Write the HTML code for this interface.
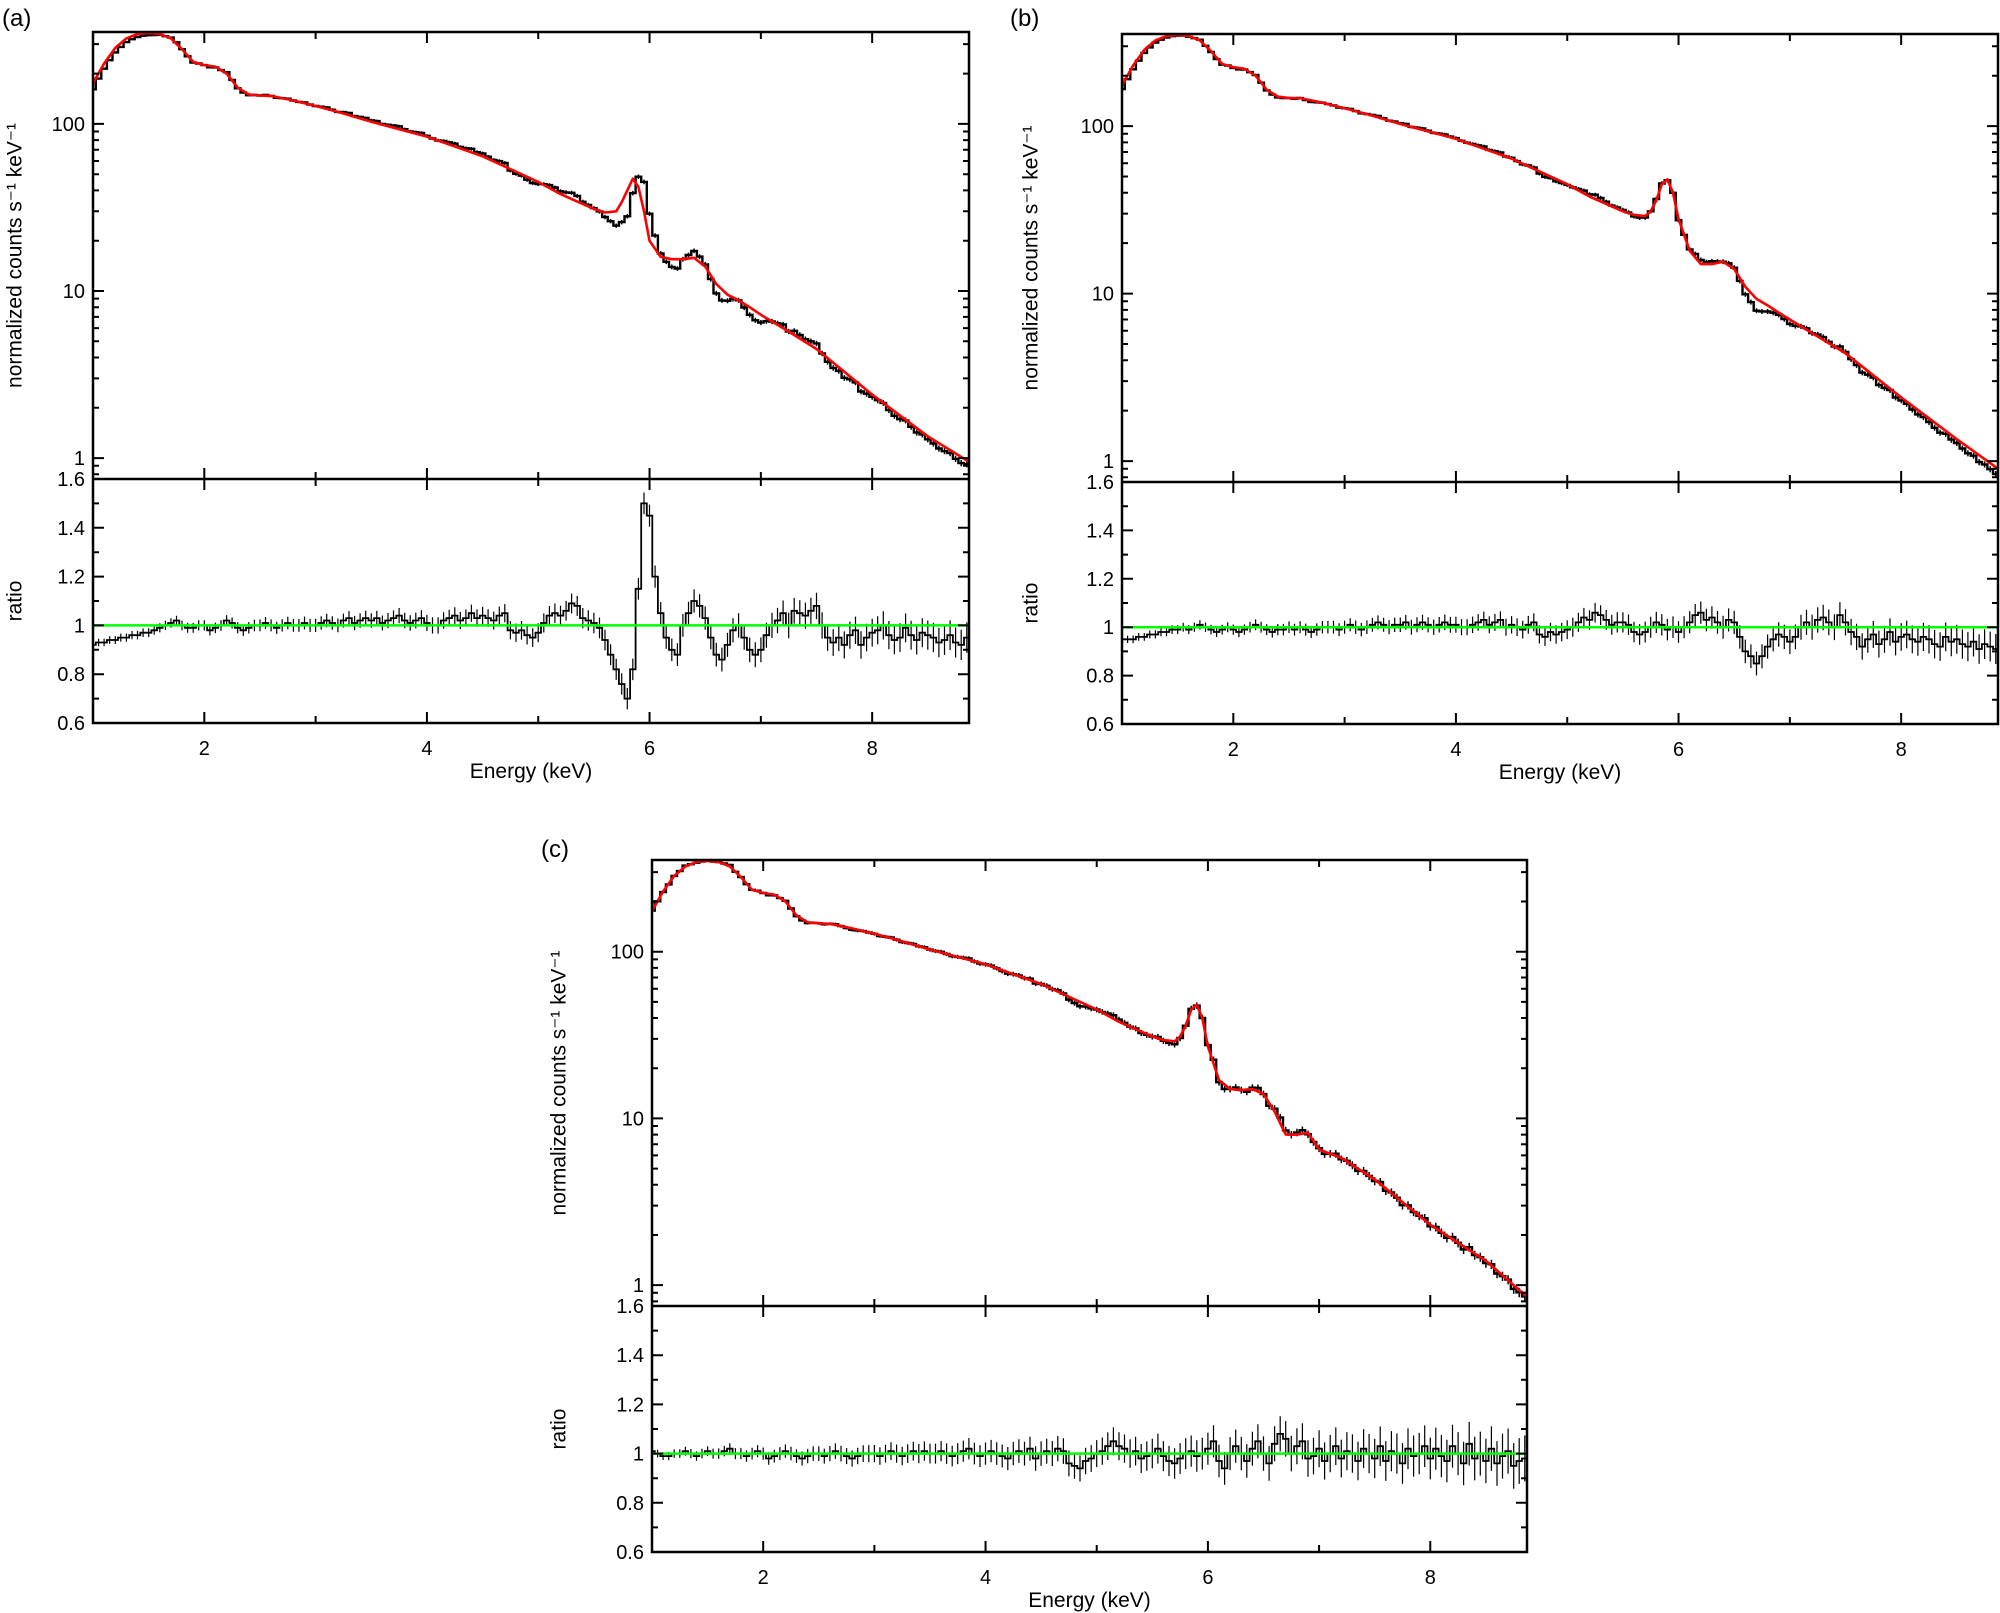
<!DOCTYPE html>
<html><head><meta charset="utf-8"><style>
html,body{margin:0;padding:0;background:#fff;}
svg{display:block;font-family:"Liberation Sans",sans-serif;}
</style></head><body>
<svg id="fig" width="2000" height="1613" viewBox="0 0 2000 1613" xmlns="http://www.w3.org/2000/svg"></svg>
<script>
// ---- data ----
const modelE = [1.0,1.1,1.2,1.3,1.4,1.5,1.6,1.7,1.8,1.9,2.0,2.1,2.2,2.3,2.4,2.5,2.6,2.8,3.0,3.2,3.5,4.0,4.5,5.0,5.2,5.5,5.6,5.7,5.75,5.8,5.85,5.9,5.95,6.0,6.1,6.2,6.3,6.4,6.5,6.6,6.7,6.8,6.9,7.0,7.2,7.5,8.0,8.5,8.87];
const modelA = [175,230,285,325,345,350,345,325,280,235,225,220,200,165,150,148,147,138,128,118,103,84,64,45,38,31,29.5,30,34,40,47,42,30,20,16,15.5,15.5,15.8,14,11,9.5,8.8,8,7.2,6,4.5,2.4,1.35,0.95];
const modelB = [175,230,285,325,345,350,345,325,280,235,225,220,200,165,150,147,147,138,128,118,103,84,64,45,38,31,29.5,29,31,36,45,48,40,28,18,15,15,15.5,14,11,9.3,8.5,7.7,7,5.8,4.4,2.4,1.35,0.9];
const modelC = [175,230,285,325,345,350,345,325,280,235,225,220,200,165,150,148,147,138,128,118,103,84,64,45,38,31,29.5,29,31,36,45,48,40,27,17,15,14.8,15,14,11,8,8,8.2,6.5,5.8,4.3,2.3,1.4,0.85];
const ratioStart = 1.0, ratioStep = 0.05;
const ratioA = [0.92,0.93,0.93,0.94,0.94,0.95,0.95,0.96,0.96,0.97,
0.97,0.98,0.99,1.0,1.01,1.02,1.0,0.99,0.99,1.0,
1.0,0.98,0.99,1.0,1.02,1.01,0.99,0.98,0.99,1.0,
1.0,1.01,1.0,0.99,1.0,1.01,1.0,1.0,1.01,1.0,
1.0,1.01,1.02,1.01,1.0,1.02,1.03,1.01,1.02,1.03,
1.02,1.03,1.01,1.02,1.03,1.04,1.02,1.01,1.02,1.03,
1.01,1.0,1.0,1.02,1.03,1.04,1.02,1.03,1.05,1.03,
1.04,1.03,1.02,1.04,1.05,0.98,0.97,0.98,0.96,0.95,
0.97,1.01,1.04,1.05,1.04,1.06,1.09,1.08,1.03,1.02,
1.01,0.99,0.94,0.88,0.82,0.76,0.70,0.82,1.15,1.50,
1.45,1.2,1.05,0.95,0.9,0.88,1.0,1.05,1.1,1.08,
1.03,0.95,0.88,0.86,0.92,0.98,1.0,0.95,0.9,0.88,
0.9,0.96,1.0,1.02,1.05,1.0,1.06,1.05,1.04,1.06,
1.08,1.0,0.95,0.93,0.95,0.92,0.96,0.98,0.92,0.95,
0.97,0.98,1.0,0.96,0.94,0.95,0.99,0.96,0.94,0.97,
0.96,0.95,0.93,0.94,0.96,0.93,0.92,0.95];
const ratioB = [0.95,0.95,0.95,0.96,0.96,0.97,0.97,0.98,0.98,0.99,
0.99,1.0,0.99,1.0,1.01,1.0,0.99,0.98,0.99,1.0,
0.99,0.98,0.99,1.0,1.01,1.0,0.99,0.98,0.99,0.99,
1.0,0.99,1.0,0.99,0.98,0.99,1.0,1.0,1.0,0.99,
1.0,1.01,1.0,0.99,1.0,1.01,1.02,1.01,1.0,1.01,
1.01,1.02,1.0,1.01,1.02,1.01,1.0,1.01,1.02,1.01,
1.01,1.0,1.0,1.01,1.02,1.03,1.01,1.02,1.03,1.0,
1.01,1.0,0.99,1.01,1.02,0.97,0.96,0.98,0.97,0.98,
0.99,1.0,1.02,1.04,1.03,1.06,1.05,1.03,1.01,1.02,
1.02,1.01,0.98,0.97,0.98,1.0,1.02,1.01,0.99,1.0,
0.98,1.0,1.02,1.05,1.06,1.03,1.04,1.02,1.0,1.03,
1.02,0.96,0.9,0.88,0.85,0.88,0.92,0.95,0.97,0.96,
0.94,0.96,1.0,1.02,1.0,1.03,1.04,1.02,1.0,1.05,
1.02,0.98,0.96,0.92,0.95,0.97,0.93,0.95,0.98,0.94,
0.96,0.97,0.95,0.94,0.96,0.95,0.93,0.92,0.96,0.94,
0.95,0.93,0.92,0.94,0.91,0.93,0.92,0.91];
const ratioC = [1.01,1.0,0.99,0.99,1.0,1.0,1.01,1.0,0.99,1.0,
1.01,1.0,1.0,1.01,1.02,1.0,1.0,0.99,1.0,1.01,
1.0,0.98,0.99,1.0,1.01,1.0,0.99,0.98,0.99,1.0,
1.0,0.99,1.0,1.01,1.0,0.99,0.98,0.99,1.0,1.0,
1.0,0.99,1.0,1.01,1.0,0.99,1.0,1.01,1.0,1.01,
1.0,1.0,1.01,1.0,0.99,1.0,1.01,1.02,1.0,0.99,
1.0,1.01,1.0,0.99,0.98,1.0,1.01,1.0,1.02,0.98,
1.0,1.01,1.0,1.02,1.01,0.96,0.95,0.94,0.97,0.98,
1.0,1.01,1.03,1.05,1.03,1.02,1.0,1.01,0.98,0.99,
1.0,1.02,0.99,0.97,0.96,0.98,1.0,1.01,0.99,1.0,
1.02,1.05,0.97,0.94,1.0,1.03,1.0,0.97,1.02,1.05,
1.0,0.96,1.04,1.08,1.06,1.0,1.03,1.05,0.98,0.99,
1.02,0.97,1.0,1.03,0.98,1.01,1.0,0.97,1.02,1.0,
0.98,1.03,0.97,1.01,1.0,0.96,1.02,0.99,1.0,1.03,
0.98,1.02,0.99,0.97,1.03,1.0,0.96,1.04,0.98,1.0,
0.97,1.02,0.96,0.99,1.01,0.95,0.97,0.98];
const xTicks = [2,4,6,8];
const logTicks = [1,10,100];
const ratioTicks = [0.6,0.8,1,1.2,1.4,1.6];
const ratioTickLabels = ["0.6","0.8","1","1.2","1.4","1.6"];

const NS = "http://www.w3.org/2000/svg";
const svg = document.getElementById('fig');
function mk(tag, attrs, parent){ const e=document.createElementNS(NS,tag); for(const k in attrs) e.setAttribute(k,attrs[k]); (parent||svg).appendChild(e); return e; }

const panels = [
 {id:'a', L:93, R:969, T:32, S:479, B:723, model:modelA, ratio:ratioA, errK:0.006, label:'(a)', lx:2, ly:26, ytx:16},
 {id:'b', L:1122, R:1998, T:34, S:482, B:724, model:modelB, ratio:ratioB, errK:0.006, label:'(b)', lx:1010, ly:26, ytx:1032},
 {id:'c', L:652, R:1527, T:860, S:1306, B:1552, model:modelC, ratio:ratioC, errK:0.01, label:'(c)', lx:541, ly:857, ytx:560}
];
const XMIN=1, XMAX=8.87, LTOP=2.55, LBOT=-0.125;

function interpModel(model, E){
  for(let i=0;i<modelE.length-1;i++){
    if(E>=modelE[i] && E<=modelE[i+1]){
      const t=(E-modelE[i])/(modelE[i+1]-modelE[i]);
      return Math.pow(10, Math.log10(model[i])*(1-t)+Math.log10(model[i+1])*t);
    }
  }
  return model[model.length-1];
}

panels.forEach(p=>{
  const g = mk('g',{});
  
  
  const xs = E => p.L + (E-XMIN)/(XMAX-XMIN)*(p.R-p.L);
  const ys = v => p.T + (LTOP-Math.log10(v))/(LTOP-LBOT)*(p.S-p.T);
  const yr = r => p.S + (1.6-r)/1.0*(p.B-p.S);
  const clip = mk('clipPath',{id:'clip'+p.id},g);
  mk('rect',{x:p.L,y:p.T,width:p.R-p.L,height:p.B-p.T},clip);
  const plot = mk('g',{'clip-path':'url(#clip'+p.id+')'},g);

  let d='', dr='', eb='', ebr='';
  p.ratio.forEach((r,i)=>{
    const E = ratioStart + i*ratioStep;
    const e0 = E - ratioStep/2, e1 = E + ratioStep/2;
    const m = interpModel(p.model, E);
    const v = m*r;
    const err = 0.015 + p.errK*(E-1);
    d += (i===0?'M':'L')+xs(e0).toFixed(1)+','+ys(v).toFixed(1)+'L'+xs(e1).toFixed(1)+','+ys(v).toFixed(1);
    eb += 'M'+xs(E).toFixed(1)+','+ys(v*(1+err*0.7)).toFixed(1)+'V'+ys(v*(1-err*0.7)).toFixed(1);
    dr += (i===0?'M':'L')+xs(e0).toFixed(1)+','+yr(r).toFixed(1)+'L'+xs(e1).toFixed(1)+','+yr(r).toFixed(1);
    ebr += 'M'+xs(E).toFixed(1)+','+yr(r+err).toFixed(1)+'V'+yr(r-err).toFixed(1);
  });
  const dl = mk('path',{d:d,fill:'none',stroke:'#000','stroke-width':2.4},plot);
  
  
  mk('path',{d:eb,fill:'none',stroke:'#000','stroke-width':1.5},plot);
  let md='';
  modelE.forEach((E,i)=>{ md += (i===0?'M':'L')+xs(E).toFixed(1)+','+ys(p.model[i]).toFixed(1); });
  const ml = mk('path',{d:md,fill:'none',stroke:'#ff0000','stroke-width':2.6,'stroke-linejoin':'round'},plot);
  
  
  const rl = mk('path',{d:dr,fill:'none',stroke:'#000','stroke-width':1.8},plot);
  
  
  mk('path',{d:ebr,fill:'none',stroke:'#000','stroke-width':1.2},plot);
  const gl = mk('line',{x1:p.L,x2:p.R,y1:yr(1),y2:yr(1),stroke:'#00ff00','stroke-width':2.5},plot);
  
  

  mk('rect',{x:p.L,y:p.T,width:p.R-p.L,height:p.B-p.T,fill:'none',stroke:'#000','stroke-width':2.5},g);
  mk('line',{x1:p.L,x2:p.R,y1:p.S,y2:p.S,stroke:'#000','stroke-width':2.5},g);

  let tk='';
  for(let E=1;E<=8;E++){
    const len = (E%2===0)?11:7;
    const x=xs(E);
    [[p.T,1],[p.S,-1],[p.S,1],[p.B,-1]].forEach(([y,dir])=>{ tk+='M'+x+','+y+'v'+(dir*len); });
  }
  for(let dec=-1; dec<=2; dec++){
    for(let k=1;k<=9;k++){
      const v=k*Math.pow(10,dec); const y=ys(v);
      if(y<p.T||y>p.S) continue;
      const len = k===1?11:6;
      tk+='M'+p.L+','+y+'h'+len+'M'+p.R+','+y+'h'+(-len);
    }
  }
  for(let r=0.6;r<=1.61;r+=0.1){
    const y=yr(r); const major = Math.round(r*10)%2===0;
    const len = major?11:6;
    tk+='M'+p.L+','+y+'h'+len+'M'+p.R+','+y+'h'+(-len);
  }
  mk('path',{d:tk,stroke:'#000','stroke-width':2,fill:'none'},g);

  xTicks.forEach(E=>{
    const t=mk('text',{x:xs(E),y:p.B+32,'font-size':20,'text-anchor':'middle'},g); t.textContent=String(E);
     
  });
  logTicks.forEach(v=>{
    const t=mk('text',{x:p.L-8,y:ys(v)+7,'font-size':20,'text-anchor':'end'},g); t.textContent=String(v);
     
  });
  ratioTicks.forEach((r,i)=>{
    const t=mk('text',{x:p.L-8,y:yr(r)+7,'font-size':20,'text-anchor':'end'},g); t.textContent=ratioTickLabels[i];
     
  });
  const xt=mk('text',{x:(p.L+p.R)/2,y:p.B+55,'font-size':21,'text-anchor':'middle'},g); xt.textContent='Energy (keV)';
   
  const cy=(p.T+p.S)/2;
  const yt=mk('text',{x:p.ytx,y:cy,'font-size':21,'text-anchor':'middle',transform:'rotate(-90 '+p.ytx+' '+cy+')','dominant-baseline':'middle'},g);
  yt.textContent='normalized counts s\u207B\u00B9 keV\u207B\u00B9';
   
  const ry=(p.S+p.B)/2;
  const rt=mk('text',{x:p.ytx,y:ry,'font-size':21,'text-anchor':'middle',transform:'rotate(-90 '+p.ytx+' '+ry+')','dominant-baseline':'middle'},g);
  rt.textContent='ratio';
   
  const pl=mk('text',{x:p.lx,y:p.ly,'font-size':24},g); pl.textContent=p.label;
   
});
</script>
</body></html>
